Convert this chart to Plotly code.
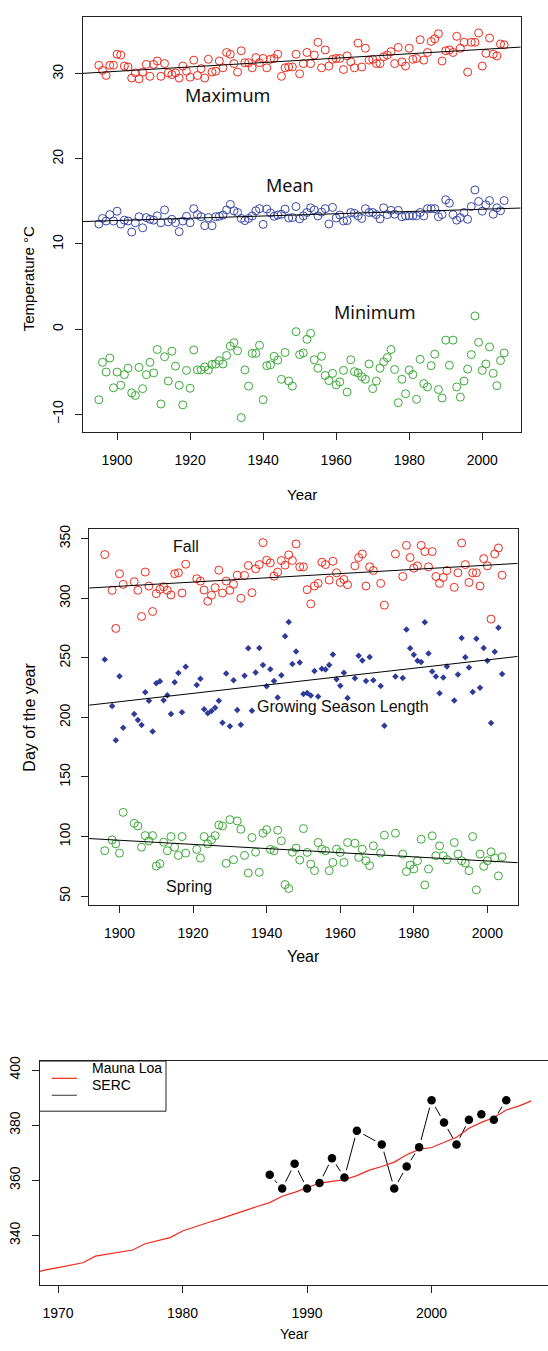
import numpy as np
import plotly.graph_objects as go

W, H = 548, 1351

# ---------------- Panel 1 data: temperature ----------------
temp_years = list(range(1895, 2007))
t_max = [31.0, 30.4, 29.8, 31.0, 31.0, 32.3, 32.2, 30.9, 30.8, 29.5,
         30.1, 29.4, 30.2, 31.1, 29.7, 31.1, 31.5, 29.7, 31.2, 30.1,
         29.9, 30.1, 29.5, 30.9, 30.3, 29.6, 31.6, 29.8, 30.6, 29.5,
         31.7, 30.2, 30.3, 31.5, 30.7, 32.5, 32.3, 31.2, 30.2, 32.7,
         31.3, 31.3, 30.7, 31.9, 31.3, 31.8, 30.7, 31.7, 31.8, 32.3,
         29.7, 30.7, 30.8, 30.8, 32.3, 30.0, 31.2, 32.5, 31.2, 32.2,
         33.7, 30.7, 32.8, 30.9, 31.7, 31.8, 31.8, 30.5, 32.1, 31.4,
         30.7, 33.6, 30.8, 33.0, 31.6, 31.7, 31.2, 31.2, 32.0, 32.2,
         32.6, 31.2, 33.1, 31.4, 30.9, 33.0, 31.7, 31.8, 34.0, 31.6,
         32.5, 33.8, 34.1, 34.7, 31.5, 32.7, 32.8, 32.5, 34.4, 33.0,
         33.7, 30.2, 33.7, 33.7, 34.8, 30.9, 32.4, 34.2, 32.3, 32.1,
         33.5, 33.4]
t_mean = [12.35, 13.0, 12.7, 13.45, 12.7, 13.85, 12.35, 12.8, 12.7, 11.4,
          12.5, 13.2, 11.9, 13.1, 12.9, 12.8, 13.3, 12.5, 14.0, 12.6,
          12.9, 12.5, 11.45, 12.7, 13.25, 12.5, 14.15, 13.45, 13.2, 12.15,
          13.1, 12.15, 13.2, 13.25, 13.4, 14.0, 14.65, 13.9, 13.7, 13.0,
          12.75, 13.0, 13.3, 13.9, 14.15, 12.3, 14.1, 13.65, 13.25, 13.4,
          13.5, 14.1, 13.05, 13.1, 14.4, 12.95, 13.3, 13.7, 14.25, 14.0,
          13.3, 13.75, 14.15, 12.35, 14.3, 13.05, 13.4, 12.7, 12.75, 13.7,
          13.6, 13.3, 13.0, 14.15, 13.7, 13.7, 13.45, 12.95, 14.25, 13.45,
          13.95, 13.5, 13.95, 13.2, 13.3, 13.3, 13.3, 13.3, 13.7, 13.3,
          14.15, 14.15, 14.15, 13.2, 13.45, 15.2, 14.8, 13.45, 12.8, 13.1,
          13.7, 12.9, 14.4, 16.35, 15.0, 13.85, 14.6, 15.1, 13.5, 14.25,
          13.9, 15.1]
t_min = [-8.3, -3.9, -5.05, -3.4, -6.9, -5.05, -6.6, -5.35, -4.6, -7.5,
         -7.8, -4.5, -7.0, -5.35, -3.9, -5.15, -2.4, -8.8, -3.25, -6.1,
         -2.6, -4.35, -6.6, -8.9, -4.85, -6.95, -2.45, -4.8, -4.8, -4.45,
         -4.8, -4.15, -4.1, -3.7, -4.1, -3.1, -2.0, -1.6, -2.55, -10.4,
         -4.8, -6.7, -2.85, -2.85, -1.9, -8.3, -4.3, -4.2, -3.2, -3.65,
         -5.9, -2.75, -6.1, -6.7, -0.3, -3.0, -2.8, -1.2, -0.5, -3.6,
         -4.6, -3.2, -5.45, -6.05, -5.2, -6.55, -6.2, -4.85, -7.4, -3.6,
         -5.0, -5.15, -5.6, -5.9, -4.1, -7.0, -6.1, -4.6, -3.85, -3.35,
         -2.4, -4.75, -8.65, -5.9, -7.6, -4.8, -5.35, -8.25, -3.55, -6.4,
         -6.8, -4.3, -2.95, -7.1, -8.1, -1.3, -4.25, -1.3, -6.8, -8.0,
         -6.1, -4.7, -3.0, 1.55, -1.55, -4.85, -4.1, -2.1, -5.2, -6.65,
         -3.7, -2.8]

# ---------------- Panel 2 data: phenology ----------------
phen_years = [1896, 1898, 1899, 1900, 1901, 1904, 1905, 1906, 1907, 1908,
              1909, 1910, 1911, 1912, 1913, 1914, 1915, 1916, 1917, 1918,
              1921, 1922, 1923, 1924, 1925, 1926, 1927, 1928, 1929, 1930,
              1931, 1932, 1933, 1934, 1935, 1936, 1937, 1938, 1939, 1940,
              1941, 1942, 1943, 1944, 1945, 1946, 1947, 1948, 1949, 1950,
              1951, 1952, 1953, 1954, 1955, 1956, 1957, 1958, 1959, 1960,
              1961, 1962, 1964, 1965, 1966, 1967, 1968, 1969, 1971, 1972,
              1975, 1977, 1978, 1979, 1980, 1981, 1982, 1983, 1984, 1985,
              1986, 1987, 1988, 1989, 1991, 1992, 1993, 1994, 1995, 1996,
              1997, 1998, 1999, 2000, 2001, 2002, 2003, 2004]
fall = [336.7, 306.7, 274.7, 320.6, 311.7, 313.9, 306.7, 284.7, 322.0, 310.3,
        288.9, 303.9, 307.5, 309.7, 306.7, 302.8, 320.6, 321.4, 304.4, 328.6,
        316.4, 314.4, 306.9, 297.5, 302.5, 308.9, 323.6, 304.4, 314.4, 306.7,
        311.7, 319.4, 300.0, 319.2, 327.5, 304.7, 324.7, 328.3, 346.7, 331.9,
        329.7, 318.6, 322.0, 331.7, 327.8, 336.4, 331.7, 345.6, 326.4, 326.4,
        307.2, 295.3, 310.3, 312.5, 330.3, 328.3, 315.3, 331.1, 321.4, 313.3,
        315.8, 311.4, 327.2, 334.2, 337.2, 310.3, 326.4, 323.3, 312.5, 294.2,
        337.2, 318.3, 344.4, 334.2, 325.3, 327.2, 344.4, 339.2, 326.4, 339.2,
        318.3, 312.5, 317.5, 323.3, 309.2, 321.4, 346.4, 328.3, 313.3, 321.4,
        321.4, 310.3, 333.3, 327.2, 282.5, 337.2, 342.2, 319.4]
spring = [88.1, 97.2, 93.9, 86.1, 120.3, 111.1, 108.9, 91.1, 100.8, 96.4,
          100.8, 75.3, 77.2, 95.3, 88.1, 100.0, 91.1, 84.2, 100.0, 86.1,
          89.2, 81.9, 100.0, 93.9, 97.2, 100.8, 109.7, 108.9, 77.5, 114.2,
          80.6, 113.1, 106.1, 84.2, 69.4, 99.2, 86.9, 70.0, 102.8, 105.8,
          89.2, 88.1, 105.3, 96.4, 59.7, 56.4, 86.9, 90.3, 80.3, 106.7,
          86.7, 76.9, 71.4, 95.0, 89.4, 88.1, 71.4, 78.3, 89.4, 86.7,
          78.3, 95.0, 94.4, 82.5, 89.4, 79.7, 75.6, 92.2, 86.1, 101.1,
          102.8, 85.3, 70.6, 76.1, 72.8, 79.7, 97.8, 59.4, 72.8, 100.6,
          83.9, 92.2, 83.9, 80.6, 95.0, 85.3, 79.7, 77.8, 71.4, 100.0,
          55.3, 85.3, 75.0, 79.7, 87.2, 82.0, 67.0, 83.0]
season_length = [248.6, 209.5, 180.8, 234.5, 191.4, 202.8, 197.8, 193.6, 221.2, 213.9,
                 188.1, 228.6, 230.3, 214.4, 218.6, 202.8, 229.5, 237.2, 204.4, 242.5,
                 227.2, 232.5, 206.9, 203.6, 205.3, 208.1, 213.9, 195.5, 236.9, 192.5,
                 231.1, 206.3, 193.9, 235.0, 258.1, 205.5, 237.8, 258.3, 243.9, 226.1,
                 240.5, 230.5, 216.7, 235.3, 268.1, 280.0, 244.8, 255.3, 246.1, 219.7,
                 220.5, 218.4, 238.9, 217.5, 240.9, 240.2, 243.9, 252.8, 232.0, 226.6,
                 237.5, 216.4, 232.8, 251.7, 247.8, 230.6, 250.8, 231.1, 226.4, 193.1,
                 234.4, 233.0, 273.8, 258.1, 252.5, 247.5, 246.6, 279.8, 253.6, 238.6,
                 234.4, 220.3, 233.6, 242.7, 214.2, 236.1, 266.7, 250.5, 241.9, 221.4,
                 266.1, 225.0, 258.3, 247.5, 195.3, 255.2, 275.2, 236.4]

# ---------------- Panel 3 data: CO2 ----------------
ml_years = [1968, 1969, 1970, 1971, 1972, 1973, 1974, 1975, 1976, 1977,
            1978, 1979, 1980, 1981, 1982, 1983, 1984, 1985, 1986, 1987,
            1988, 1989, 1990, 1991, 1992, 1993, 1994, 1995, 1996, 1997,
            1998, 1999, 2000, 2001, 2002, 2003, 2004, 2005, 2006, 2007, 2008]
ml_co2 = [326.3, 327.5, 328.3, 329.1, 330.1, 332.5, 333.2, 333.9, 334.7, 337.0,
          338.1, 339.2, 341.6, 343.2, 344.6, 346.0, 347.6, 349.0, 350.5, 351.9,
          354.2, 355.6, 357.3, 359.0, 359.6, 360.2, 361.7, 363.7, 365.0, 366.6,
          369.3, 371.2, 371.9, 373.8, 375.6, 378.9, 381.0, 382.8, 385.5, 386.9, 388.8]
serc_years = [1987, 1988, 1989, 1990, 1991, 1992, 1993, 1994, 1996, 1997,
              1998, 1999, 2000, 2001, 2002, 2003, 2004, 2005, 2006]
serc_co2 = [362, 357, 366, 357, 359, 368, 361, 378, 373, 357,
            365, 372, 389, 381, 373, 382, 384, 382, 389]

# ---------------- styling ----------------
FONT = "Liberation Sans, Arial, Helvetica, sans-serif"
LABEL_FONT = "Noto Sans, Open Sans, Liberation Sans, sans-serif"
RED = "#EE2A1B"
BLUE = "#3A49A6"
BLUE_D = "#2E3C98"
GREEN = "#3AAA35"

# pixel geometry of the three plot boxes
def dx(px):
    return px / W

def dy(py):
    return 1 - py / H

P1 = dict(x=[dx(82.8), dx(520.7)], y=[dy(429.0), dy(12.3)], xr=[1890.61, 2010.53], yr=[-12.14, 36.64])
P2 = dict(x=[dx(89.1), dx(517.7)], y=[dy(903.3), dy(526.0)], xr=[1891.74, 2008.24], yr=[42.6, 358.1])
P3 = dict(x=[dx(39.5), 1.0], y=[dy(1285.0), dy(1060.0)], xr=[1968.51, 2009.35], yr=[321.93, 403.25])

fig = go.Figure()


def fit_line(xs, ys, xr, xa, ya):
    b, a = np.polyfit(np.array(xs, float), np.array(ys, float), 1)
    xx = np.array(xr)
    fig.add_trace(go.Scatter(x=xx, y=a + b * xx, mode="lines",
                             line=dict(color="black", width=1),
                             xaxis=xa, yaxis=ya, showlegend=False, hoverinfo="skip"))


def circles(xs, ys, color, xa, ya):
    fig.add_trace(go.Scatter(x=xs, y=ys, mode="markers",
                             marker=dict(symbol="circle-open", size=8, color=color,
                                         line=dict(width=1, color=color)),
                             xaxis=xa, yaxis=ya, showlegend=False))


# Panel 1
circles(temp_years, t_max, RED, "x", "y")
circles(temp_years, t_mean, BLUE, "x", "y")
circles(temp_years, t_min, GREEN, "x", "y")
fit_line(temp_years, t_max, P1["xr"], "x", "y")
fit_line(temp_years, t_mean, P1["xr"], "x", "y")

# Panel 2
circles(phen_years, fall, RED, "x2", "y2")
circles(phen_years, spring, GREEN, "x2", "y2")
fig.add_trace(go.Scatter(x=phen_years, y=season_length, mode="markers",
                         marker=dict(symbol="diamond", size=5, color=BLUE_D),
                         xaxis="x2", yaxis="y2", showlegend=False))
fit_line(phen_years, fall, P2["xr"], "x2", "y2")
fit_line(phen_years, season_length, P2["xr"], "x2", "y2")
fit_line(phen_years, spring, P2["xr"], "x2", "y2")

# Panel 3 (type "b" line with gaps around points)
fig.add_trace(go.Scatter(x=serc_years, y=serc_co2, mode="lines",
                         line=dict(color="black", width=1),
                         xaxis="x3", yaxis="y3", showlegend=False))
fig.add_trace(go.Scatter(x=serc_years, y=serc_co2, mode="markers",
                         marker=dict(size=15, color="white"),
                         xaxis="x3", yaxis="y3", showlegend=False, hoverinfo="skip"))
fig.add_trace(go.Scatter(x=ml_years, y=ml_co2, mode="lines",
                         line=dict(color=RED, width=1.2),
                         xaxis="x3", yaxis="y3", showlegend=False))
fig.add_trace(go.Scatter(x=serc_years, y=serc_co2, mode="markers",
                         marker=dict(size=8.5, color="black"),
                         xaxis="x3", yaxis="y3", showlegend=False))

tickfont = dict(family=FONT, size=14, color="black")


def xaxis_cfg(P, tickvals, mirror=True):
    return dict(domain=P["x"], range=P["xr"], tickvals=tickvals,
                showline=True, mirror=mirror, linecolor="#222", linewidth=1,
                ticks="outside", ticklen=7, tickwidth=1, tickcolor="#222",
                showgrid=False, zeroline=False, tickfont=tickfont,
                ticklabelstandoff=8)


def yaxis_cfg(P, tickvals, mirror=True):
    return dict(domain=P["y"], range=P["yr"], tickvals=tickvals,
                showline=True, mirror=mirror, linecolor="#222", linewidth=1,
                ticks="outside", ticklen=7, tickwidth=1, tickcolor="#222",
                showgrid=False, zeroline=False, tickfont=tickfont,
                tickangle=-90, ticklabelstandoff=6)


fig.update_layout(
    width=W, height=H, margin=dict(l=0, r=0, t=0, b=0),
    paper_bgcolor="white", plot_bgcolor="white",
    showlegend=False,
    xaxis=dict(xaxis_cfg(P1, [1900, 1920, 1940, 1960, 1980, 2000]), anchor="y"),
    yaxis=dict(yaxis_cfg(P1, [-10, 0, 10, 20, 30]), anchor="x"),
    xaxis2=dict(xaxis_cfg(P2, [1900, 1920, 1940, 1960, 1980, 2000]), anchor="y2"),
    yaxis2=dict(yaxis_cfg(P2, [50, 100, 150, 200, 250, 300, 350]), anchor="x2"),
    xaxis3=dict(xaxis_cfg(P3, [1970, 1980, 1990, 2000]), anchor="y3"),
    yaxis3=dict(yaxis_cfg(P3, [340, 360, 380, 400], mirror=False), anchor="x3"),
)

ann = []
# in-panel labels
ann += [
    dict(x=1930.1, y=27.5, xref="x", yref="y", text="Maximum", showarrow=False,
         font=dict(family=LABEL_FONT, size=18, color="#111")),
    dict(x=1947.4, y=16.9, xref="x", yref="y", text="Mean", showarrow=False,
         font=dict(family=LABEL_FONT, size=18, color="#111")),
    dict(x=1970.6, y=2.0, xref="x", yref="y", text="Minimum", showarrow=False,
         font=dict(family=LABEL_FONT, size=18, color="#111")),
    dict(x=1918.1, y=343.6, xref="x2", yref="y2", text="Fall", showarrow=False,
         font=dict(family=FONT, size=16, color="#111")),
    dict(x=1960.8, y=209.2, xref="x2", yref="y2", text="Growing Season Length", showarrow=False,
         font=dict(family=FONT, size=16, color="#111")),
    dict(x=1918.8, y=57.8, xref="x2", yref="y2", text="Spring", showarrow=False,
         font=dict(family=FONT, size=16, color="#111")),
]
# axis titles
title_font = dict(family=FONT, size=15, color="black")
ann += [
    dict(x=dx(17.5), y=dy(220.6), xref="paper", yref="paper", text="Temperature °C",
         textangle=-90, showarrow=False, font=title_font),
    dict(x=dx(301.7), y=dy(491), xref="paper", yref="paper", text="Year",
         showarrow=False, font=title_font),
    dict(x=dx(19.2), y=dy(714.6), xref="paper", yref="paper", text="Day of the year",
         textangle=-90, showarrow=False, font=dict(family=FONT, size=16, color="black")),
    dict(x=dx(303.4), y=dy(966), xref="paper", yref="paper", text="Year",
         showarrow=False, font=dict(family=FONT, size=16, color="black")),
    dict(x=dx(294.6), y=dy(1344), xref="paper", yref="paper", text="Year",
         showarrow=False, font=dict(family=FONT, size=14, color="black")),
]
# legend text
ann += [
    dict(x=dx(89.8), y=dy(1077.3), xref="paper", yref="paper", text="Mauna Loa",
         xanchor="left", showarrow=False, font=dict(family=FONT, size=14, color="black")),
    dict(x=dx(89.8), y=dy(1094.3), xref="paper", yref="paper", text="SERC",
         xanchor="left", showarrow=False, font=dict(family=FONT, size=14, color="black")),
]
fig.update_layout(annotations=ann)

shapes = [
    dict(type="rect", xref="paper", yref="paper", x0=dx(39.5), x1=dx(166), y0=dy(1110.3), y1=dy(1060),
         line=dict(color="#222", width=1), fillcolor="rgba(0,0,0,0)"),
    dict(type="line", xref="paper", yref="paper", x0=dx(51.7), x1=dx(76.9), y0=dy(1077.3), y1=dy(1077.3),
         line=dict(color=RED, width=1.2)),
    dict(type="line", xref="paper", yref="paper", x0=dx(51.7), x1=dx(76.9), y0=dy(1094.3), y1=dy(1094.3),
         line=dict(color="#333", width=1)),
]
fig.update_layout(shapes=shapes)

fig.write_html("out.html")
